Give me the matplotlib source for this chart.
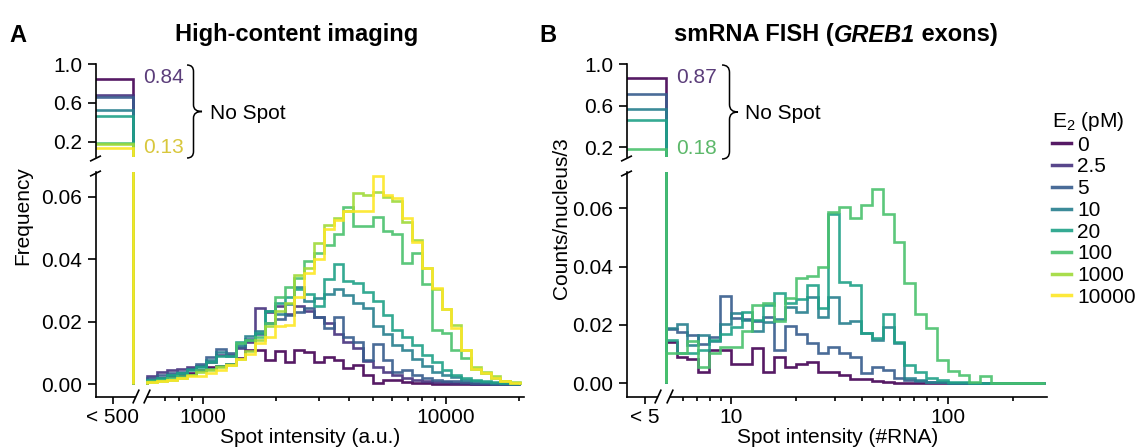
import numpy as np
import matplotlib
matplotlib.use("Agg")
import matplotlib.pyplot as plt
from matplotlib.path import Path
from matplotlib.patches import PathPatch
from matplotlib.lines import Line2D
from matplotlib.transforms import Affine2D
from matplotlib.ticker import FixedLocator, NullFormatter

plt.rcParams['font.family'] = ['Liberation Sans', 'DejaVu Sans']
plt.rcParams['mathtext.default'] = 'regular'
plt.rcParams['font.size'] = 15

# E2 doses (pM)
doses = ['0', '2.5', '5', '10', '20', '100', '1000', '10000']

# ---- panel A: high-content imaging (spot intensity, a.u.) ----
a_nospot = [0.845, 0.68, 0.66, 0.53, 0.46, 0.19, 0.175, 0.13]
a_nospot_edges = [300, 515]
a_lo, a_hi, a_nbins = 590, 20160, 38

a_0 = [0.001, 0.002, 0.0025, 0.003, 0.0035, 0.0045, 0.0055, 0.006, 0.0065, 0.0085,
       0.011, 0.011, 0.0078, 0.0107, 0.0072, 0.011, 0.0104, 0.0072, 0.0088, 0.0078,
       0.0051, 0.0062, 0.003, 0.0005, 0.0014, 0.0014, 0.0008, 0.0004, 0.0003, 0.0002,
       0.0002, 0.0001, 0.0001, 0.0001, 0.0, 0.0, 0.0, 0.0]
a_2_5 = [0.0025, 0.004, 0.0045, 0.005, 0.0055, 0.006, 0.007, 0.0095, 0.0095, 0.0115,
         0.0135, 0.0245, 0.023, 0.025, 0.0225, 0.025, 0.0235, 0.0215, 0.0195, 0.016,
         0.0135, 0.0115, 0.0075, 0.0055, 0.004, 0.003, 0.002, 0.0015, 0.001, 0.0008,
         0.0006, 0.0004, 0.0003, 0.0002, 0.0001, 0.0001, 0.0, 0.0]
a_5 = [0.002, 0.003, 0.0035, 0.004, 0.005, 0.0065, 0.0086, 0.0114, 0.0099, 0.012,
       0.0145, 0.016, 0.0195, 0.021, 0.022, 0.023, 0.0243, 0.0215, 0.018, 0.0216,
       0.015, 0.0136, 0.0078, 0.013, 0.0078, 0.004, 0.0045, 0.003, 0.002, 0.0015,
       0.0012, 0.001, 0.0007, 0.0005, 0.0003, 0.0002, 0.0001, 0.0001]
a_10 = [0.0015, 0.002, 0.003, 0.0035, 0.005, 0.006, 0.0078, 0.0104, 0.009, 0.0125,
        0.0154, 0.017, 0.0235, 0.0225, 0.0255, 0.031, 0.0265, 0.0275, 0.029, 0.0305,
        0.0285, 0.026, 0.0245, 0.0185, 0.016, 0.0125, 0.011, 0.008, 0.006, 0.004,
        0.003, 0.0022, 0.0015, 0.001, 0.0008, 0.0005, 0.0003, 0.0002]
a_20 = [0.0015, 0.002, 0.003, 0.0035, 0.0045, 0.0055, 0.007, 0.009, 0.009, 0.0136,
        0.014, 0.0165, 0.0235, 0.026, 0.028, 0.0305, 0.029, 0.025, 0.0335, 0.0385,
        0.033, 0.0325, 0.0295, 0.0265, 0.022, 0.0175, 0.015, 0.0125, 0.0095, 0.007,
        0.0045, 0.003, 0.002, 0.0015, 0.001, 0.0008, 0.0005, 0.0003]
a_100 = [0.001, 0.0015, 0.002, 0.0025, 0.003, 0.0046, 0.005, 0.006, 0.0065, 0.0133,
         0.014, 0.015, 0.0195, 0.028, 0.031, 0.034, 0.0395, 0.042, 0.0445, 0.048,
         0.0567, 0.0505, 0.0505, 0.0535, 0.049, 0.048, 0.0387, 0.042, 0.032, 0.0174,
         0.0165, 0.011, 0.0083, 0.0048, 0.0035, 0.002, 0.001, 0.0005]
a_1000 = [0.0008, 0.001, 0.0015, 0.002, 0.003, 0.004, 0.0045, 0.0056, 0.0062, 0.008,
          0.0105, 0.014, 0.0185, 0.0235, 0.026, 0.035, 0.037, 0.045, 0.051, 0.053,
          0.0555, 0.061, 0.0605, 0.0615, 0.06, 0.0585, 0.052, 0.046, 0.037, 0.0305,
          0.024, 0.019, 0.011, 0.0055, 0.004, 0.0025, 0.0012, 0.0006]
a_10000 = [0.0008, 0.001, 0.0015, 0.002, 0.0025, 0.0027, 0.0035, 0.0046, 0.0062, 0.008,
           0.0096, 0.0133, 0.015, 0.0186, 0.019, 0.028, 0.0355, 0.040, 0.0495, 0.0525,
           0.0555, 0.0555, 0.0555, 0.0665, 0.0605, 0.0595, 0.053, 0.0455, 0.037, 0.0307,
           0.024, 0.018, 0.011, 0.0048, 0.0035, 0.0019, 0.001, 0.0005]

# ---- panel B: smRNA FISH (#RNA per spot) ----
b_doses = [0, 2, 3, 4, 5]          # indices into doses
b_nospot = [0.87, 0.71, 0.565, 0.46, 0.185]
b_nospot_edges = [2, 5]
b_lo, b_nbins, b_step = 5, 35, 0.05   # log10 bin width

b_0 = [0.014, 0.0091, 0.0082, 0.004, 0.0114, 0.0114, 0.0066, 0.0066, 0.0122, 0.004,
       0.0089, 0.0057, 0.0065, 0.0074, 0.004, 0.0038, 0.0029, 0.0015, 0.0015, 0.0008,
       0.0004, 0.0002, 0.0002, 0.0001, 0.0001, 0.0, 0.0, 0.0, 0.0, 0.0,
       0.0, 0.0, 0.0, 0.0, 0.0]
b_5 = [0.0185, 0.0175, 0.0165, 0.0135, 0.016, 0.030, 0.0225, 0.022, 0.0215, 0.0226,
       0.0114, 0.0197, 0.017, 0.0137, 0.0103, 0.0126, 0.0105, 0.009, 0.0037, 0.0057,
       0.0046, 0.0017, 0.0012, 0.0008, 0.0005, 0.0003, 0.0002, 0.0001, 0.0, 0.0,
       0.0, 0.0, 0.0, 0.0, 0.0]
b_10 = [0.019, 0.0205, 0.013, 0.0165, 0.0145, 0.0205, 0.0242, 0.0217, 0.018, 0.021,
        0.022, 0.026, 0.0245, 0.0297, 0.0229, 0.0297, 0.0206, 0.0215, 0.0171, 0.0148,
        0.0194, 0.0139, 0.0017, 0.0012, 0.0006, 0.0004, 0.0002, 0.0001, 0.0, 0.0,
        0.0, 0.0, 0.0, 0.0, 0.0]
b_20 = [0.015, 0.0105, 0.0103, 0.0114, 0.0148, 0.017, 0.0194, 0.0245, 0.0217, 0.027,
        0.031, 0.0275, 0.029, 0.0337, 0.0257, 0.058, 0.0348, 0.0337, 0.0174, 0.0154,
        0.0236, 0.0143, 0.0063, 0.004, 0.0017, 0.0012, 0.0005, 0.0003, 0.0002, 0.0001,
        0.0, 0.0, 0.0, 0.0, 0.0]
b_100 = [0.0105, 0.0105, 0.0145, 0.0055, 0.0105, 0.0123, 0.0123, 0.018, 0.0269, 0.0274,
         0.0213, 0.0294, 0.0362, 0.0368, 0.0398, 0.0586, 0.0603, 0.0565, 0.061, 0.0665,
         0.058, 0.0485, 0.0345, 0.0238, 0.0189, 0.008, 0.0042, 0.0029, 0.0003, 0.0025,
         0.0002, 0.0001, 0.0001, 0.0, 0.0]

a_hist = [a_0, a_2_5, a_5, a_10, a_20, a_100, a_1000, a_10000]
b_hist = [b_0, b_5, b_10, b_20, b_100]
a_edges = np.geomspace(a_lo, a_hi, a_nbins + 1)
b_edges = b_lo * 10 ** (b_step * np.arange(b_nbins + 1))

colors = plt.cm.viridis(np.linspace(0, 1, len(doses)))
LW = 1.9
ALPHA = 0.9

W, H = 1144, 448
fig = plt.figure(figsize=(W / 100, H / 100), dpi=100)
pix = Affine2D().scale(1 / W, -1 / H).translate(0, 1) + fig.transFigure


def px_axes(left, top, right, bottom):
    return fig.add_axes([left / W, 1 - bottom / H, (right - left) / W, (bottom - top) / H])


def style(ax, bottom=True):
    for s in ['top', 'right']:
        ax.spines[s].set_visible(False)
    ax.spines['bottom'].set_visible(bottom)
    for s in ['left', 'bottom']:
        ax.spines[s].set_linewidth(1.2)
    ax.tick_params(axis='y', which='major', length=6, width=1.2, pad=4, labelsize=15)
    ax.tick_params(axis='x', which='major', length=5, width=1.2, pad=3, labelsize=15)
    ax.tick_params(axis='x', which='minor', length=3, width=1.2)
    if not bottom:
        ax.tick_params(axis='x', which='both', bottom=False, labelbottom=False)


def brace(x0, ytop, ybot, w, r):
    ym = (ytop + ybot) / 2
    xv = x0 + r
    verts = [(x0, ytop), (xv, ytop), (xv, ytop + r), (xv, ym - r), (xv, ym), (x0 + w, ym),
             (xv, ym), (xv, ym + r), (xv, ybot - r), (xv, ybot), (x0, ybot)]
    codes = [Path.MOVETO, Path.CURVE3, Path.CURVE3, Path.LINETO, Path.CURVE3, Path.CURVE3,
             Path.CURVE3, Path.CURVE3, Path.LINETO, Path.CURVE3, Path.CURVE3]
    fig.add_artist(PathPatch(Path(verts, codes), transform=pix, fill=False, lw=1.1, color='black'))


def pline(xs, ys, color='black', lw=1.2, z=10):
    fig.add_artist(Line2D(xs, ys, transform=pix, color=color, lw=lw, zorder=z,
                          solid_capstyle='butt'))


def breaks(xs, x_gap):
    # y-axis breaks
    for yc in (158.5, 173.5):
        pline([xs - 6, xs + 5], [yc + 2.7, yc - 2.7])
    # x-axis break
    pline([x_gap[0], x_gap[1]], [396.7, 396.7], color='white', lw=3, z=9)
    for xc in x_gap:
        pline([xc - 3.2, xc + 3.2], [403.5, 389.5])


def panel(left, right, dec_px, ref_px, ref_val, y0_px, yscale_lo, yscale_top,
          nospot, nospot_edges, hists, edges, cidx, major, labels, minor):
    lo = px_axes(left, 172, right, 397)
    top = px_axes(left, 64, right, 157)
    xl = (ref_val * 10 ** ((left - ref_px) / dec_px), ref_val * 10 ** ((right - ref_px) / dec_px))
    for ax in (lo, top):
        ax.set_xscale('log')
        ax.set_xlim(xl)
        ax.patch.set_visible(False)
    lo.set_ylim((y0_px - 397) / yscale_lo, (y0_px - 172) / yscale_lo)
    top.set_ylim(1 - (157 - 64) / yscale_top, 1.0)
    for k, vals in enumerate(hists):
        c = colors[cidx[k]]
        top.stairs([nospot[k]], nospot_edges, baseline=0, color=c, lw=LW, alpha=ALPHA)
        lo.stairs([nospot[k]], nospot_edges, baseline=0, color=c, lw=LW, alpha=ALPHA)
        lo.stairs(vals, edges, baseline=0, color=c, lw=LW, alpha=ALPHA)
    style(lo)
    style(top, bottom=False)
    lo.set_xticks(major, labels)
    lo.xaxis.set_minor_locator(FixedLocator(minor))
    lo.xaxis.set_minor_formatter(NullFormatter())
    lo.set_yticks([0, 0.02, 0.04, 0.06], ['0.00', '0.02', '0.04', '0.06'])
    top.set_yticks([0.2, 0.6, 1.0], ['0.2', '0.6', '1.0'])
    return lo, top


loA, topA = panel(96, 524, 243, 203, 1000, 384.3, 3130, 97.1,
                  a_nospot, a_nospot_edges, a_hist, a_edges, list(range(8)),
                  [425, 1000, 10000], ['< 500', '1000', '10000'],
                  [700, 800, 900, 2000, 3000, 4000, 5000, 6000, 7000, 8000, 9000, 20000])
loB, topB = panel(627, 1047, 217, 731, 10, 383.3, 2917, 104.1,
                  b_nospot, b_nospot_edges, b_hist, b_edges, b_doses,
                  [4, 10, 100], ['< 5', '10', '100'],
                  [6, 7, 8, 9, 20, 30, 40, 50, 60, 70, 80, 90, 200])

breaks(96, (136, 147))
breaks(627, (658, 670))

# no-spot annotations
fig.text(143 / W, 1 - 83 / H, '0.84', color='#5b3d7a', va='baseline', ha='left')
fig.text(143 / W, 1 - 153 / H, '0.13', color='#d8c73c', va='baseline', ha='left')
fig.text(210 / W, 1 - 119 / H, 'No Spot', va='baseline', ha='left')
brace(187, 65, 158, 15, 6.5)
fig.text(676 / W, 1 - 83 / H, '0.87', color='#5b3d7a', va='baseline', ha='left')
fig.text(676 / W, 1 - 154 / H, '0.18', color='#5cb86a', va='baseline', ha='left')
fig.text(745 / W, 1 - 119 / H, 'No Spot', va='baseline', ha='left')
brace(722, 65, 159, 16, 7.5)

# titles and labels
TB = 1 - 41.5 / H
fig.text(18 / W, TB, 'A', fontsize=17, fontweight='bold', ha='center', va='baseline')
fig.text(548 / W, TB, 'B', fontsize=17, fontweight='bold', ha='center', va='baseline')
fig.text(296.5 / W, TB, 'High-content imaging', fontsize=17, fontweight='bold',
         ha='center', va='baseline')
t1 = fig.text(0, TB, 'smRNA FISH (', fontsize=17, fontweight='bold', ha='left', va='baseline')
t2 = fig.text(0, TB, 'GREB1', fontsize=17, fontweight='bold', style='italic',
              ha='left', va='baseline')
t3 = fig.text(0, TB, ' exons)', fontsize=17, fontweight='bold', ha='left', va='baseline')
fig.canvas.draw()
r = fig.canvas.get_renderer()
parts = [t1, t2, t3]
widths = [t.get_window_extent(r).width for t in parts]
x = 835.5 - sum(widths) / 2
for t, w in zip(parts, widths):
    t.set_position((x / W, TB))
    x += w

fig.text(23 / W, 1 - 216 / H, 'Frequency', rotation=90, ha='center', va='center')
fig.text(561 / W, 1 - 218 / H, 'Counts/nucleus/3', rotation=90, ha='center', va='center')
fig.text(310 / W, 1 - 443 / H, 'Spot intensity (a.u.)', ha='center', va='baseline')
fig.text(838 / W, 1 - 443 / H, 'Spot intensity (#RNA)', ha='center', va='baseline')

handles = [Line2D([], [], color=colors[i], lw=2.5, alpha=ALPHA) for i in range(len(doses))]
fig.legend(handles, doses, title='E$_2$ (pM)', loc='upper left',
           bbox_to_anchor=(1052 / W, 1 - 110 / H), frameon=False, fontsize=15,
           title_fontsize=15, handlelength=0.9, handletextpad=0.3, labelspacing=0.13,
           alignment='left', borderpad=0, borderaxespad=0)

fig.savefig('out.png', dpi=100)
